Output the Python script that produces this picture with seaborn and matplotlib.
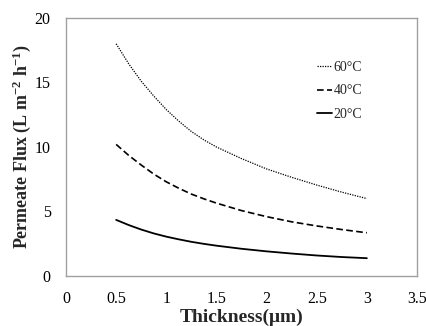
import matplotlib
matplotlib.use("Agg")
import matplotlib.pyplot as plt
import seaborn as sns
import pandas as pd

thickness = [0.5, 0.625, 0.75, 0.875, 1.0, 1.125, 1.25, 1.375, 1.5, 1.75, 2.0, 2.25, 2.5, 2.75, 3.0]
flux_60 = [18.0, 16.45, 15.1, 13.95, 12.9, 12.0, 11.2, 10.55, 10.0, 9.1, 8.3, 7.65, 7.05, 6.5, 6.0]
flux_40 = [10.2, 9.35, 8.6, 7.9, 7.3, 6.8, 6.35, 5.98, 5.65, 5.07, 4.6, 4.2, 3.88, 3.6, 3.35]
flux_20 = [4.35, 3.95, 3.6, 3.3, 3.05, 2.84, 2.65, 2.49, 2.35, 2.11, 1.91, 1.74, 1.59, 1.47, 1.38]
labels = ["60\u00b0C", "40\u00b0C", "20\u00b0C"]
xticks = [0, 0.5, 1, 1.5, 2, 2.5, 3, 3.5]
yticks = [0, 5, 10, 15, 20]

sns.set_style("white")
plt.rcParams['font.family'] = ['Liberation Serif', 'DejaVu Serif']
plt.rcParams['mathtext.default'] = 'regular'

fig = plt.figure(figsize=(4.27, 3.26), dpi=100)
ax = fig.add_axes([0.1546, 0.1534, 0.822, 0.7914])

styles = [(0, (1, 1)), (0, (4, 2)), '-']
widths = [0.9, 1.2, 1.3]
for vals, lab, ls, lw in zip([flux_60, flux_40, flux_20], labels, styles, widths):
    df = pd.DataFrame({"x": thickness, "y": vals})
    sns.lineplot(data=df, x="x", y="y", ax=ax, color="black", linestyle=ls,
                 linewidth=lw, label=lab)

ax.set_xlim(0, 3.5)
ax.set_ylim(0, 20)
ax.set_xticks(xticks)
ax.set_xticklabels([f"{t:g}" for t in xticks])
ax.set_yticks(yticks)
ax.tick_params(direction='in', length=4, color='#808080', labelsize=11.5,
               labelcolor='black')
ax.tick_params(axis='x', pad=11)
ax.tick_params(axis='y', pad=11)
for s in ax.spines.values():
    s.set_color('#A0A0A0')
    s.set_linewidth(1.0)
ax.set_xlabel("Thickness(\u03bcm)", fontsize=14, fontweight='bold', labelpad=1)
ax.set_ylabel(r"Permeate Flux (L m$^{-2}$ h$^{-1}$)", fontsize=13,
              fontweight='bold', labelpad=1)

leg = ax.legend(loc='upper right', bbox_to_anchor=(0.86, 0.855), frameon=False,
                fontsize=10, handlelength=1.1, handletextpad=0.1,
                labelspacing=0.75, borderaxespad=0)

fig.savefig("out.png", dpi=100)
